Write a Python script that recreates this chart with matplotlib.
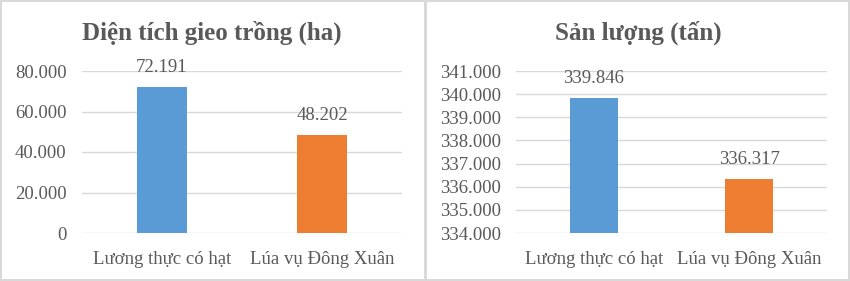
import numpy as np
import matplotlib.pyplot as plt
from matplotlib.patches import Rectangle
from matplotlib.ticker import FuncFormatter

# Dữ liệu
loai = ['Lương thực có hạt', 'Lúa vụ Đông Xuân']
dien_tich = [72191, 48202]
san_luong = [339846, 336317]
mau = ['#5B9BD5', '#ED7D31']

plt.rcParams['font.family'] = ['Liberation Serif', 'DejaVu Serif']
chu = '#595959'
luoi = '#D9D9D9'

W, H = 850, 281
fig = plt.figure(figsize=(W / 100, H / 100), dpi=100, facecolor='#D9D9D9')

# hai khung trắng
for x0, x1 in [(2, 424), (427, 848)]:
    fig.add_artist(Rectangle((x0 / W, 2 / H), (x1 - x0) / W, (279 - 2) / H,
                             transform=fig.transFigure, facecolor='white',
                             edgecolor='none', zorder=0))


def dau_cham(v, pos):
    return f'{int(round(v)):,}'.replace(',', '.')


def ve(left, right, title, title_x, values, ylim, step):
    ax = fig.add_axes([left / W, 1 - 233 / H, (right - left) / W, (233 - 71) / H])
    ax.set_facecolor('none')
    x = np.arange(len(values))
    ax.bar(x, np.array(values) - ylim[0], bottom=ylim[0], width=0.31, color=mau, zorder=3)
    ax.set_xlim(-0.5, len(values) - 0.5)
    ax.set_ylim(ylim)
    ax.set_yticks(np.arange(ylim[0], ylim[1] + 1, step))
    ax.yaxis.set_major_formatter(FuncFormatter(dau_cham))
    ax.grid(axis='y', color=luoi, linewidth=1, zorder=0)
    for s in ax.spines.values():
        s.set_visible(False)
    ax.tick_params(length=0, colors=chu, labelsize=13.5)
    ax.tick_params(axis='x', pad=13)
    ax.tick_params(axis='y', pad=11)
    ax.set_xticks(x)
    ax.set_xticklabels(loai)
    for xi, v in zip(x, values):
        ax.annotate(dau_cham(v, None), (xi, v), xytext=(0, 8), textcoords='offset points',
                    ha='center', va='bottom', color=chu, fontsize=13.5)
    fig.text(title_x / W, 1 - 33 / H, title, ha='center', va='center',
             fontsize=18, fontweight='bold', color=chu)


ve(82, 402, 'Diện tích gieo trồng (ha)', 212, dien_tich, (0, 80000), 20000)
ve(516, 827, 'Sản lượng (tấn)', 638, san_luong, (334000, 341000), 1000)

fig.savefig('out.png', dpi=100, facecolor=fig.get_facecolor())
